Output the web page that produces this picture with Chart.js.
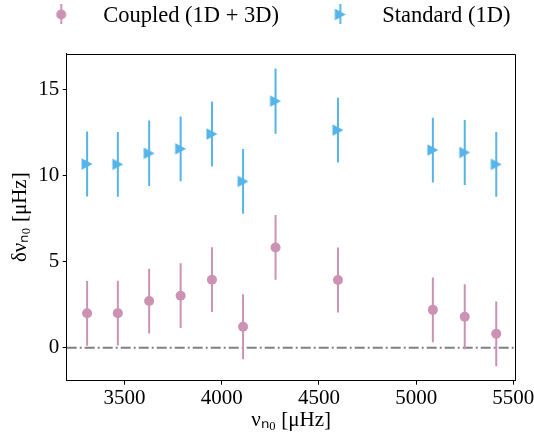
<!DOCTYPE html>
<html>
<head>
<meta charset="utf-8">
<script src="https://cdn.jsdelivr.net/npm/chart.js@4"></script>
<style>
html,body{margin:0;padding:0;background:#fff;}
#wrap{width:534px;height:436px;position:relative;}
</style>
</head>
<body>
<div id="wrap"><canvas id="c" width="534" height="436"></canvas></div>
<script>
// ---- data ----
const FREQ = [3308, 3466, 3627, 3789, 3950, 4110, 4277, 4598, 5086, 5250, 5412];
const COUPLED = [2.00, 2.01, 2.71, 3.02, 3.95, 1.22, 5.82, 3.93, 2.20, 1.80, 0.81];
const COUPLED_ERR = [1.88, 1.88, 1.88, 1.88, 1.88, 1.88, 1.88, 1.88, 1.88, 1.88, 1.88];
const STANDARD = [10.66, 10.64, 11.28, 11.54, 12.40, 9.65, 14.31, 12.63, 11.47, 11.33, 10.64];
const STANDARD_ERR = [1.88, 1.88, 1.90, 1.88, 1.88, 1.88, 1.89, 1.88, 1.88, 1.88, 1.88];
const X_TICKS = [3500, 4000, 4500, 5000, 5500];
const Y_TICKS = [0, 5, 10, 15];
const X_RANGE = [3203, 5512];
const Y_RANGE = [-1.91, 17.06];
const ZERO_LEVEL = 0;
const SERIES_NAMES = ['Coupled (1D + 3D)', 'Standard (1D)'];
const X_TITLE = 'νₙ₀ [μHz]';
const Y_TITLE = 'δνₙ₀ [μHz]';

// ---- styling ----
const PINK = '#CC92B3';
const BLUE = '#56B4E9';
const FONT = "'Liberation Serif', 'Times New Roman', serif";
Chart.defaults.font.family = FONT;
Chart.defaults.color = '#000';

function triangleCanvas(w, h, cx, cy, barLen) {
  const c = document.createElement('canvas');
  c.width = w; c.height = h;
  const g = c.getContext('2d');
  g.fillStyle = BLUE;
  if (barLen) g.fillRect(cx - 1, 0, 2, barLen);
  g.beginPath();
  g.moveTo(cx + 5.5, cy);
  g.lineTo(cx - 5.5, cy - 5.7);
  g.lineTo(cx - 5.5, cy + 5.7);
  g.closePath();
  g.fill();
  return c;
}
function circleCanvas(w, h, cx, cy, barLen) {
  const c = document.createElement('canvas');
  c.width = w; c.height = h;
  const g = c.getContext('2d');
  g.fillStyle = PINK;
  g.fillRect(cx - 1, 0, 2, barLen);
  g.beginPath();
  g.arc(cx, cy, 5, 0, Math.PI * 2);
  g.fill();
  return c;
}
const triMarker = triangleCanvas(14, 14, 7, 7, 0);
const legPink = circleCanvas(40, 24, 32.9, 10.5, 20);
const legBlue = triangleCanvas(40, 24, 32.9, 10.5, 20);

const pts = (ys) => FREQ.map((x, i) => ({x: x, y: ys[i]}));
const bars = (ys, es) => FREQ.map((x, i) => ({x: x, y: [ys[i] - es[i], ys[i] + es[i]]}));

const legendHeight = {
  id: 'legendHeight',
  beforeLayout(chart) {
    const lg = chart.legend;
    if (lg && !lg._patched) {
      const orig = lg.fit;
      lg.fit = function () { orig.call(this); this.height = 53.7; };
      lg._patched = true;
    }
  }
};
const frame = {
  id: 'frame',
  afterDraw(chart) {
    const a = chart.chartArea, ctx = chart.ctx;
    ctx.save();
    ctx.strokeStyle = '#000';
    ctx.lineWidth = 1;
    const t = Math.round(a.top) + 0.5, r = Math.round(a.right) - 0.5;
    ctx.beginPath();
    ctx.moveTo(a.left, t); ctx.lineTo(r, t); ctx.lineTo(r, a.bottom);
    ctx.stroke();
    ctx.restore();
  }
};

new Chart(document.getElementById('c'), {
  type: 'scatter',
  data: {
    datasets: [
      {
        type: 'line', data: [{x: X_RANGE[0], y: ZERO_LEVEL}, {x: X_RANGE[1], y: ZERO_LEVEL}],
        borderColor: '#808080', borderWidth: 2, borderDash: [10, 3, 2, 3],
        pointRadius: 0, showLine: true, fill: false, order: 3
      },
      {
        type: 'bar', data: bars(COUPLED, COUPLED_ERR), backgroundColor: PINK,
        barThickness: 2, grouped: false, borderWidth: 0, inflateAmount: 0, order: 2
      },
      {
        type: 'bar', data: bars(STANDARD, STANDARD_ERR), backgroundColor: BLUE,
        barThickness: 2, grouped: false, borderWidth: 0, inflateAmount: 0, order: 2
      },
      {
        label: SERIES_NAMES[0], data: pts(COUPLED), pointStyle: 'circle', pointRadius: 5,
        backgroundColor: PINK, borderWidth: 0, order: 0
      },
      {
        label: SERIES_NAMES[1], data: pts(STANDARD), pointStyle: triMarker, pointRadius: 7,
        backgroundColor: BLUE, borderWidth: 0, order: 0
      }
    ]
  },
  options: {
    responsive: false,
    animation: false,
    devicePixelRatio: 1,
    layout: {padding: 0},
    plugins: {
      tooltip: {enabled: false},
      legend: {
        position: 'top', align: 'start',
        labels: {
          usePointStyle: true, pointStyleWidth: 87.25, boxHeight: 22.5, padding: 4.75,
          color: '#000', font: {size: 22.5, family: FONT},
          generateLabels: () => [
            {text: SERIES_NAMES[0], pointStyle: legPink, fillStyle: PINK, strokeStyle: PINK, lineWidth: 0, hidden: false, datasetIndex: 3, fontColor: '#000'},
            {text: SERIES_NAMES[1], pointStyle: legBlue, fillStyle: BLUE, strokeStyle: BLUE, lineWidth: 0, hidden: false, datasetIndex: 4, fontColor: '#000'}
          ]
        }
      }
    },
    scales: {
      x: {
        type: 'linear', min: X_RANGE[0], max: X_RANGE[1], offset: false,
        grid: {display: true, offset: false, drawOnChartArea: false, drawTicks: true, tickLength: 4, tickColor: '#000', tickWidth: 1},
        border: {display: true, color: '#000', width: 1},
        ticks: {includeBounds: false, padding: 1, color: '#000', font: {size: 21}, maxRotation: 0, autoSkip: false, callback: (v) => String(v)},
        afterBuildTicks: (s) => { s.ticks = X_TICKS.map((v) => ({value: v})); },
        afterFit: (s) => { s.height = 55.3; s.paddingRight = 18.3; },
        title: {display: true, text: X_TITLE, color: '#000', font: {size: 21}, padding: {top: 0, bottom: 3.4}}
      },
      y: {
        type: 'linear', min: Y_RANGE[0], max: Y_RANGE[1],
        grid: {display: true, drawOnChartArea: false, drawTicks: true, tickLength: 4, tickColor: '#000', tickWidth: 1},
        border: {display: true, color: '#000', width: 1},
        ticks: {padding: 3.5, color: '#000', font: {size: 21}, callback: (v) => String(v)},
        afterBuildTicks: (s) => { s.ticks = Y_TICKS.map((v) => ({value: v})); },
        afterFit: (s) => { s.width = 66.7; },
        title: {display: true, text: Y_TITLE, color: '#000', font: {size: 21}, padding: {top: 8, bottom: 0}}
      }
    }
  },
  plugins: [legendHeight, frame]
});
</script>
</body>
</html>
